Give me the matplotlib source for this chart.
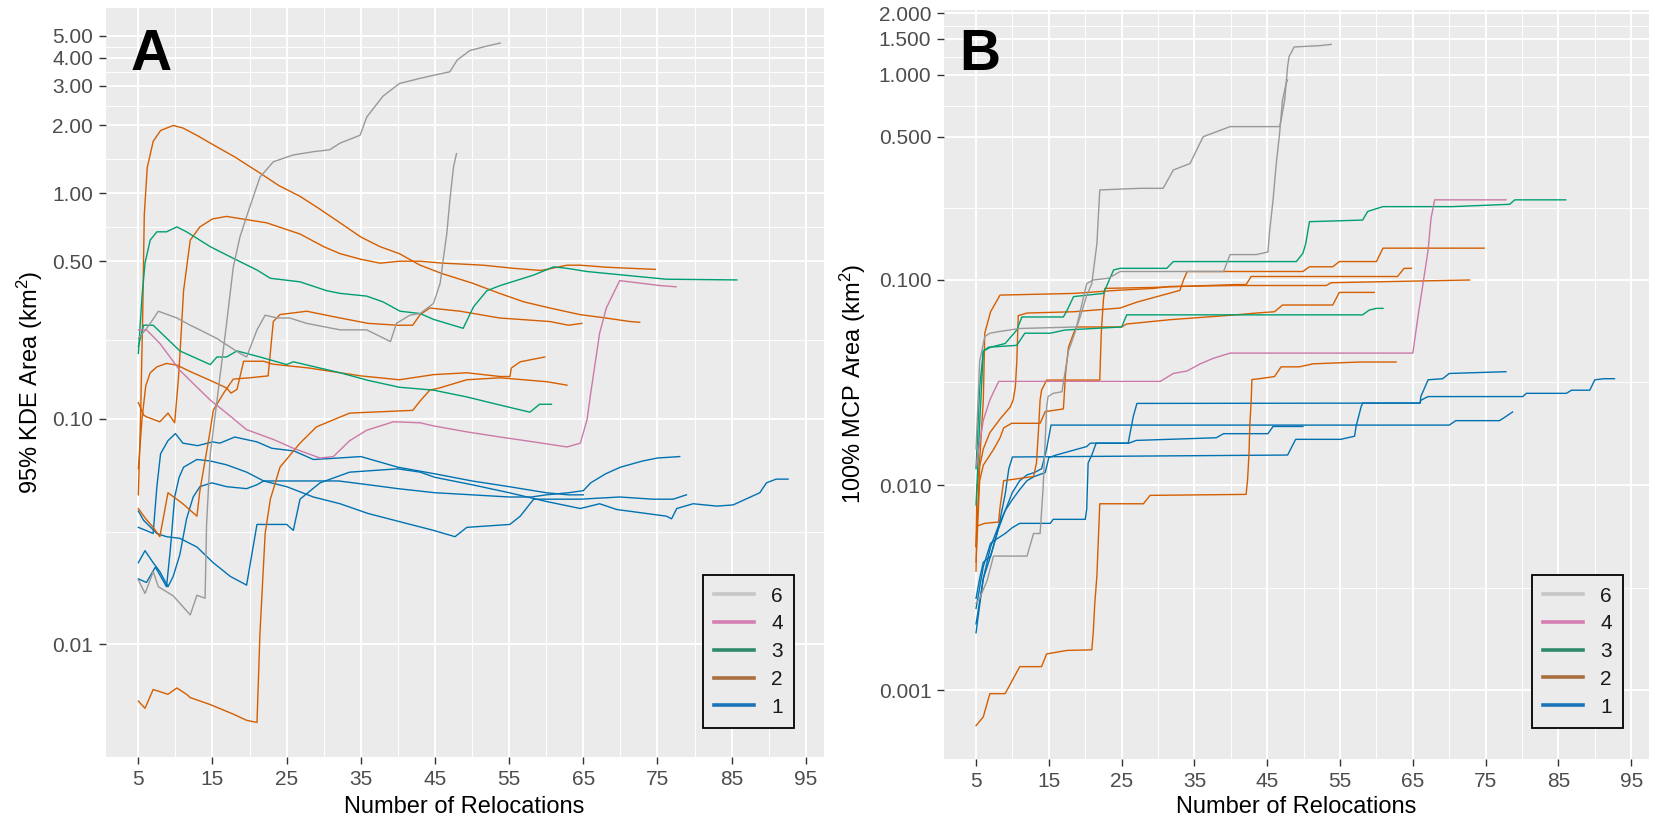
import matplotlib
matplotlib.use('Agg')
import numpy as np
import matplotlib.pyplot as plt
from matplotlib.lines import Line2D
from matplotlib.ticker import FixedLocator, NullFormatter

plt.rcParams['font.family'] = ['Liberation Sans', 'DejaVu Sans']
plt.rcParams['mathtext.fontset'] = 'custom'
plt.rcParams['mathtext.rm'] = 'Liberation Sans'
plt.rcParams['mathtext.it'] = 'Liberation Sans:italic'

# ---- data: each line is one animal, (relocations, area km2) ----
# Panel A: 95% KDE area
kde_g1 = [
    [(5, 0.033), (6, 0.032), (7, 0.031), (7.5, 0.05), (8, 0.07), (9, 0.08), (10, 0.086), (11, 0.078),
     (13, 0.076), (15, 0.079), (16, 0.078), (18, 0.083), (21, 0.079), (23, 0.074), (26, 0.072),
     (28.6, 0.066), (32, 0.067), (35, 0.068), (40, 0.061), (45, 0.057), (50, 0.053), (55, 0.050),
     (60, 0.047), (63, 0.046), (65, 0.046)],
    [(5, 0.0195), (6.1, 0.0188), (7.3, 0.022), (8.8, 0.018), (9.3, 0.026), (9.9, 0.045), (10.5, 0.055),
     (11.1, 0.061), (12.9, 0.066), (14.7, 0.065), (16.9, 0.0625), (19.6, 0.058), (21.9, 0.053), (25, 0.05),
     (28.6, 0.045), (32.2, 0.042), (36, 0.038), (40.2, 0.035), (44.8, 0.032), (47.7, 0.030), (49.3, 0.033),
     (55.1, 0.034), (56.5, 0.037), (58.3, 0.044), (61, 0.044), (64.6, 0.044), (69.9, 0.045), (74.4, 0.044),
     (77.1, 0.044), (78.9, 0.046)],
    [(5, 0.023), (5.9, 0.026), (7, 0.023), (7.9, 0.021), (9, 0.018), (9.7, 0.020), (10.6, 0.025),
     (11.5, 0.036), (12.4, 0.045), (13.3, 0.050), (14.9, 0.052), (16.9, 0.050), (19.6, 0.049), (21, 0.051),
     (21.9, 0.053), (32, 0.053), (36, 0.051), (40, 0.049), (45, 0.047), (50, 0.046), (55, 0.045), (58, 0.045),
     (60, 0.046), (63, 0.047), (65, 0.048), (66, 0.052), (68, 0.057), (70, 0.061), (73, 0.065), (75, 0.067),
     (78, 0.068)],
    [(5, 0.039), (5.7, 0.0355), (7.5, 0.031), (8.8, 0.030), (10.6, 0.0295), (12.9, 0.027), (15.1, 0.023),
     (17.4, 0.020), (19.6, 0.0183), (20.3, 0.025), (21, 0.034), (22.3, 0.034), (25, 0.034), (25.9, 0.032),
     (26.8, 0.044), (29.5, 0.052), (33.5, 0.058), (40, 0.06), (43, 0.058), (45, 0.055), (50, 0.051),
     (55, 0.047), (60, 0.043), (64.6, 0.040), (67.2, 0.042), (69.5, 0.0396), (76.2, 0.037), (76.9, 0.036),
     (77.6, 0.040), (79.8, 0.042), (83, 0.041), (85.2, 0.0415), (88.8, 0.047), (89.7, 0.052), (91, 0.054),
     (92.6, 0.054)],
]
kde_g2 = [
    [(5, 0.046), (5.3, 0.1), (5.6, 0.3), (5.8, 0.8), (6.2, 1.3), (7, 1.7), (8, 1.9), (9.7, 2.0), (11, 1.95),
     (13, 1.8), (14.7, 1.67), (18, 1.45), (21.4, 1.23), (24, 1.08), (26.8, 0.97), (29.5, 0.85), (32.2, 0.74),
     (35, 0.64), (37.6, 0.58), (40.2, 0.54), (43, 0.48), (46, 0.44), (50, 0.40), (53.7, 0.36), (57, 0.33),
     (60.5, 0.31), (64.5, 0.29), (68, 0.28), (71.3, 0.27), (72.6, 0.268)],
    [(5, 0.118), (5.7, 0.104), (6.1, 0.102), (7.9, 0.097), (9, 0.106), (9.9, 0.096), (10.4, 0.15),
     (10.6, 0.19), (11.1, 0.37), (12, 0.62), (13.3, 0.71), (15, 0.77), (16.9, 0.79), (19, 0.77),
     (22.3, 0.74), (26.8, 0.66), (30, 0.58), (32.2, 0.54), (35, 0.51), (37.6, 0.49), (40.2, 0.50),
     (43, 0.50), (46.1, 0.49), (48.4, 0.486), (51.5, 0.48), (55.6, 0.465), (59.2, 0.455), (60.1, 0.46),
     (62.8, 0.48), (64.6, 0.48), (68.2, 0.47), (74.7, 0.46)],
    [(5, 0.040), (6, 0.036), (7, 0.033), (7.9, 0.030), (9, 0.047), (11, 0.042), (12.9, 0.037), (13.3, 0.048),
     (14.7, 0.089), (15.1, 0.109), (16.5, 0.13), (17.8, 0.15), (20, 0.152), (22.5, 0.155), (23.2, 0.27),
     (24.1, 0.29), (27.7, 0.30), (32.2, 0.28), (36, 0.265), (40, 0.26), (42, 0.26), (43, 0.29), (44.3, 0.31),
     (48.4, 0.30), (53.7, 0.28), (60.5, 0.27), (63, 0.26), (64.8, 0.265)],
    [(5, 0.06), (5.5, 0.10), (6, 0.14), (6.6, 0.16), (7.5, 0.17), (8.8, 0.176), (10.2, 0.173), (12, 0.162),
     (14.7, 0.148), (16.9, 0.137), (17.5, 0.130), (18.3, 0.135), (19.2, 0.18), (21.9, 0.18), (23, 0.175),
     (25, 0.172), (28, 0.168), (32.2, 0.16), (35, 0.155), (40.2, 0.149), (44.8, 0.157), (49.3, 0.16),
     (53.8, 0.154), (55.1, 0.154), (55.3, 0.168), (56.5, 0.179), (59.8, 0.188)],
    [(5, 0.0056), (5.9, 0.0052), (7, 0.0063), (9, 0.006), (10.2, 0.0064), (11.5, 0.006), (12, 0.0058),
     (14.7, 0.0054), (17.8, 0.0049), (19.6, 0.0046), (21, 0.0045), (21.4, 0.0112), (22.1, 0.031),
     (22.8, 0.044), (24.1, 0.061), (26.8, 0.078), (29, 0.092), (31.3, 0.099), (33.5, 0.106), (42, 0.109),
     (43, 0.12), (44.3, 0.134), (45.6, 0.137), (49.3, 0.149), (53.8, 0.152), (60.1, 0.146), (62.8, 0.141)],
]
kde_g3 = [
    [(5, 0.195), (5.5, 0.35), (5.9, 0.49), (6.6, 0.62), (7.5, 0.675), (8.8, 0.675), (10.2, 0.71),
     (11.5, 0.675), (14.7, 0.58), (17.8, 0.515), (21, 0.457), (22.8, 0.42), (26.8, 0.405), (30.4, 0.37),
     (32.2, 0.36), (35.8, 0.35), (38, 0.33), (40.3, 0.30), (43, 0.293), (44.8, 0.276), (48.8, 0.252),
     (50.2, 0.314), (52, 0.37), (53.8, 0.39), (58.3, 0.434), (61, 0.472), (62.8, 0.465), (65.5, 0.45),
     (72.6, 0.427), (76.2, 0.416), (85.7, 0.413)],
    [(5, 0.209), (5.7, 0.26), (7, 0.26), (10.6, 0.20), (14.7, 0.174), (15.6, 0.188), (16.9, 0.188),
     (18.3, 0.20), (21.4, 0.188), (25, 0.174), (25.9, 0.179), (32.2, 0.16), (36, 0.148), (40.2, 0.138),
     (44.8, 0.134), (49.3, 0.125), (53.8, 0.115), (57.8, 0.107), (59.1, 0.116), (60.7, 0.116)],
]
kde_g4 = [
    [(5, 0.248), (6.1, 0.248), (7.9, 0.216), (10.6, 0.164), (14.7, 0.121), (16.9, 0.106), (19.6, 0.0895),
     (23.2, 0.081), (25.9, 0.074), (29.5, 0.067), (31.3, 0.068), (33.5, 0.08), (35.8, 0.089), (39.4, 0.097),
     (43, 0.096), (44.8, 0.093), (49.3, 0.0875), (53.8, 0.083), (58.3, 0.079), (62.8, 0.075), (64.6, 0.078),
     (65.5, 0.099), (66, 0.13), (67.2, 0.24), (68.1, 0.31), (69.9, 0.41), (72.6, 0.40), (75.3, 0.39),
     (77.5, 0.385)],
]
kde_g6 = [
    [(5, 0.0193), (5.9, 0.0168), (6.6, 0.0193), (7, 0.021), (7.7, 0.018), (9.7, 0.0164), (12, 0.0135),
     (12.9, 0.0165), (14, 0.016), (14.2, 0.034), (14.7, 0.07), (15.6, 0.12), (16.9, 0.265), (17.8, 0.47),
     (18.7, 0.64), (19.6, 0.79), (21.4, 1.18), (23.2, 1.38), (25.9, 1.48), (28.6, 1.53), (30.8, 1.56),
     (32.2, 1.67), (34.9, 1.81), (35.8, 2.18), (38, 2.7), (40.2, 3.07), (42.9, 3.23), (45, 3.35), (47, 3.46),
     (48, 3.9), (49.7, 4.3), (52, 4.5), (53.8, 4.64)],
    [(5, 0.227), (6.3, 0.256), (7.7, 0.30), (10.2, 0.28), (12, 0.26), (13.3, 0.248), (15.6, 0.227),
     (18.7, 0.195), (19.6, 0.188), (21, 0.248), (22.1, 0.288), (23.7, 0.28), (25.4, 0.28), (27.7, 0.265),
     (32.2, 0.248), (35.8, 0.248), (39, 0.22), (39.8, 0.265), (41.6, 0.288), (43, 0.293), (44.8, 0.325),
     (45.7, 0.40), (46.1, 0.506), (46.6, 0.665), (47, 0.93), (47.5, 1.31), (47.9, 1.50)],
]

# Panel B: 100% MCP area
mcp_g1 = [
    [(5, 0.0019), (5.5, 0.0026), (6, 0.0035), (7, 0.0045), (8, 0.006), (9, 0.0075), (10, 0.0085),
     (11, 0.0095), (12, 0.0105), (13, 0.011), (14.5, 0.0115), (15, 0.0136), (16, 0.014), (20.2, 0.0154),
     (20.7, 0.016), (25.9, 0.016), (26.6, 0.0216), (27.1, 0.025), (66, 0.0251), (66.1, 0.027),
     (67.1, 0.0326), (69.1, 0.033), (70, 0.035), (77.8, 0.0357)],
    [(5, 0.0028), (5.5, 0.0035), (6, 0.0042), (7, 0.0045), (8, 0.006), (9, 0.009), (9.5, 0.012),
     (10, 0.0137), (47.8, 0.014), (48.9, 0.0167), (55.1, 0.0167), (57, 0.0173), (57.2, 0.0193),
     (57.9, 0.0241), (58.1, 0.0251), (66, 0.0251), (66.1, 0.0259), (67.1, 0.027), (80.1, 0.027),
     (80.6, 0.028), (86.1, 0.028), (86.8, 0.029), (89.3, 0.029), (90, 0.0326), (91.3, 0.033), (92.7, 0.033)],
    [(5, 0.0021), (6, 0.0035), (7, 0.005), (8, 0.0062), (9, 0.0075), (10, 0.0092), (11, 0.0105),
     (12, 0.0112), (13, 0.0115), (14, 0.012), (14.7, 0.015), (15.3, 0.0196), (70, 0.0196), (70.9, 0.0206),
     (76.9, 0.0206), (77.8, 0.0216), (78.7, 0.0227)],
    [(5, 0.0025), (6, 0.004), (7, 0.0052), (8, 0.0055), (9, 0.0058), (10, 0.0062), (11, 0.0065),
     (15.2, 0.0065), (15.6, 0.0068), (20, 0.0068), (20.2, 0.0076), (20.4, 0.0128), (20.9, 0.014),
     (21.5, 0.016), (26, 0.016), (27, 0.0165), (38, 0.017), (39, 0.0178), (45.1, 0.0178), (45.8, 0.0193),
     (49.9, 0.0193)],
]
mcp_g2 = [
    [(5, 0.005), (5.1, 0.0092), (5.5, 0.0132), (6, 0.026), (6.2, 0.055), (7, 0.07), (8.3, 0.0844),
     (18.4, 0.086), (24.3, 0.089), (29.4, 0.091), (31.6, 0.093), (40.7, 0.094), (53.1, 0.094),
     (53.8, 0.097), (72.8, 0.1)],
    [(5, 0.005), (5.5, 0.0123), (6, 0.015), (6.9, 0.018), (8.3, 0.021), (9.7, 0.024), (10.1, 0.026),
     (10.4, 0.03), (10.6, 0.04), (10.8, 0.067), (12, 0.069), (18.4, 0.070), (24.8, 0.073), (27.1, 0.078),
     (33, 0.089), (33.5, 0.10), (34, 0.11), (49.9, 0.11), (50.8, 0.116), (54, 0.116), (54.9, 0.123),
     (60, 0.123), (60.9, 0.143), (74.8, 0.143)],
    [(5, 0.0038), (5.1, 0.0063), (6.2, 0.0065), (8.1, 0.0066), (8.3, 0.0078), (8.8, 0.0105), (12.9, 0.011),
     (13.3, 0.0128), (13.6, 0.019), (13.8, 0.026), (14, 0.029), (14.7, 0.0325), (22, 0.0325), (22.2, 0.055),
     (22.5, 0.08), (22.7, 0.091), (29.4, 0.092), (40.7, 0.095), (42.1, 0.095), (42.8, 0.104), (62.9, 0.104),
     (63.8, 0.114), (64.8, 0.114)],
    [(5, 0.0042), (5.5, 0.0105), (6, 0.0125), (7.4, 0.0149), (8.3, 0.017), (8.8, 0.019), (9.9, 0.020),
     (13.8, 0.020), (14.5, 0.0228), (17, 0.0235), (17.3, 0.035), (17.7, 0.047), (18.4, 0.055), (18.8, 0.059),
     (25, 0.059), (25.7, 0.061), (31.6, 0.064), (40.7, 0.0676), (43.5, 0.069), (46, 0.07), (47.1, 0.0755),
     (54, 0.0755), (54.9, 0.087), (59.7, 0.087)],
    [(5, 0.00067), (6, 0.00074), (6.9, 0.00096), (9, 0.00096), (11, 0.0013), (14, 0.0013), (14.7, 0.0015),
     (17.5, 0.00156), (20.9, 0.00157), (21.1, 0.0019), (21.3, 0.0026), (21.6, 0.0036), (22, 0.0081),
     (28, 0.0081), (28.9, 0.0089), (42.1, 0.009), (42.3, 0.0106), (42.5, 0.0143), (42.6, 0.0193),
     (42.8, 0.026), (42.9, 0.0327), (43.9, 0.033), (46, 0.0338), (46.9, 0.0377), (49.4, 0.0377),
     (51.3, 0.039), (57.7, 0.0398), (62.7, 0.0398)],
]
mcp_g3 = [
    [(5, 0.008), (5.5, 0.02), (6, 0.045), (7, 0.047), (9, 0.049), (10.6, 0.057), (11.3, 0.066), (17, 0.066),
     (17.5, 0.071), (18.4, 0.083), (22.5, 0.086), (23.9, 0.112), (24.8, 0.114), (31.2, 0.114),
     (32.1, 0.123), (49, 0.123), (49.9, 0.135), (50.3, 0.151), (50.8, 0.1925), (58.1, 0.196),
     (58.8, 0.216), (60.9, 0.228), (70.5, 0.228), (78.3, 0.234), (79, 0.246), (86, 0.246)],
    [(5, 0.012), (5.5, 0.03), (6, 0.045), (6.7, 0.047), (10.6, 0.048), (11.7, 0.055), (15.2, 0.055),
     (17.2, 0.057), (25, 0.059), (25.7, 0.0676), (40.7, 0.0676), (58.1, 0.0676), (59, 0.0713),
     (60, 0.0727), (60.9, 0.0727)],
]
mcp_g4 = [
    [(5, 0.0123), (6, 0.0207), (6.9, 0.026), (8.1, 0.032), (30.3, 0.032), (32.1, 0.035), (34, 0.036),
     (35.8, 0.039), (37.6, 0.0415), (39.9, 0.044), (65, 0.044), (65.7, 0.066), (66.4, 0.096), (67.1, 0.14),
     (67.5, 0.20), (68, 0.246), (77.8, 0.246)],
]
mcp_g6 = [
    [(5, 0.00265), (5.5, 0.0028), (6.5, 0.0034), (7.4, 0.0045), (12, 0.0045), (12.9, 0.0058), (13.8, 0.0058),
     (14.2, 0.0095), (14.7, 0.024), (14.9, 0.027), (15.6, 0.028), (16.8, 0.0285), (17.2, 0.035),
     (17.7, 0.045), (18.4, 0.053), (19.3, 0.066), (20.2, 0.084), (20.9, 0.096), (21.6, 0.15), (22, 0.275),
     (27.5, 0.28), (30.7, 0.28), (32.1, 0.344), (34.4, 0.37), (36.2, 0.50), (39.9, 0.56), (46.7, 0.56),
     (46.9, 0.60), (47.4, 0.755), (47.8, 1.10), (48, 1.23), (48.7, 1.37), (52.2, 1.39), (53.8, 1.41)],
    [(5, 0.015), (5.5, 0.04), (6.2, 0.053), (6.9, 0.055), (8.1, 0.056), (11, 0.058), (18.8, 0.059),
     (20.2, 0.096), (21.1, 0.1), (23.2, 0.102), (24.8, 0.11), (39, 0.11), (39.9, 0.133), (43.5, 0.133),
     (45.1, 0.137), (45.3, 0.169), (45.8, 0.246), (46.2, 0.357), (46.7, 0.52), (47.1, 0.755), (47.6, 0.91),
     (47.8, 0.945)],
]

groups = ['1', '2', '3', '4', '6']
line_colors = {'1': '#0072B2', '2': '#D55E00', '3': '#009E73', '4': '#CC79A7', '6': '#999999'}
key_colors = {'1': '#1c75b8', '2': '#a9703f', '3': '#2f8a6c', '4': '#d57eb2', '6': '#c6c6c6'}

x_ticks = [5, 15, 25, 35, 45, 55, 65, 75, 85, 95]
kde_ticks = [0.01, 0.1, 0.5, 1, 2, 3, 4, 5]
mcp_ticks = [0.001, 0.01, 0.1, 0.5, 1, 1.5, 2]

W, H = 1656, 823


def style_axes(ax, yticks, fmt, ylim):
    ax.set_facecolor('#EBEBEB')
    for s in ax.spines.values():
        s.set_visible(False)
    ax.set_yscale('log')
    ax.set_xlim(0.6, 97.4)
    ax.set_ylim(*ylim)
    ax.set_xticks(x_ticks)
    ax.set_xticklabels([str(t) for t in x_ticks])
    ax.xaxis.set_minor_locator(FixedLocator(list(range(10, 100, 10))))
    ax.set_yticks(yticks)
    ax.set_yticklabels([fmt % t for t in yticks])
    logs = np.log10(yticks)
    ax.yaxis.set_minor_locator(FixedLocator(10 ** ((logs[:-1] + logs[1:]) / 2)))
    ax.yaxis.set_minor_formatter(NullFormatter())
    ax.grid(which='major', color='white', linewidth=1.4)
    ax.grid(which='minor', color='white', linewidth=0.7)
    ax.set_axisbelow(True)
    ax.tick_params(which='major', length=4.8, width=1.0, color='#333333',
                   labelsize=15, labelcolor='#4D4D4D', pad=4.3)
    ax.tick_params(which='minor', length=0)


def draw_lines(ax, panel):
    for g in groups:
        for line in panel[g]:
            xs = [p[0] for p in line]
            ys = [p[1] for p in line]
            ax.plot(xs, ys, color=line_colors[g], linewidth=1.0, solid_joinstyle='round')


def add_legend(ax, right, bottom):
    handles = [Line2D([], [], color=key_colors[g], linewidth=2.6) for g in groups[::-1]]
    leg = ax.legend(handles, groups[::-1], loc='lower right', bbox_to_anchor=(right, bottom),
                    bbox_transform=ax.transAxes, frameon=True, fancybox=False, edgecolor='black',
                    facecolor='#EBEBEB', framealpha=1, fontsize=15, handlelength=1.92,
                    handletextpad=0.82, labelspacing=0.42, borderpad=0.55, borderaxespad=0)
    leg.get_frame().set_linewidth(1.3)
    for t in leg.get_texts():
        t.set_color('#1a1a1a')


fig = plt.figure(figsize=(W / 100, H / 100), dpi=100)

# panel A
axA = fig.add_axes([105.7 / W, 1 - 757 / H, (823.6 - 105.7) / W, (757 - 8) / H])
style_axes(axA, kde_ticks, '%.2f', (10 ** -2.5, 10 ** 0.822))
draw_lines(axA, {'1': kde_g1, '2': kde_g2, '3': kde_g3, '4': kde_g4, '6': kde_g6})
add_legend(axA, 0.959, 0.0387)
axA.text(0.034, 0.917, 'A', transform=axA.transAxes, fontsize=41, fontweight='bold',
         ha='left', va='baseline', color='black')

# panel B
axB = fig.add_axes([944 / W, 1 - 759.3 / H, (1648.7 - 944) / W, (759.3 - 10) / H])
style_axes(axB, mcp_ticks, '%.3f', (10 ** -3.338, 10 ** 0.317))
draw_lines(axB, {'1': mcp_g1, '2': mcp_g2, '3': mcp_g3, '4': mcp_g4, '6': mcp_g6})
add_legend(axB, 0.964, 0.0418)
axB.text(0.021, 0.92, 'B', transform=axB.transAxes, fontsize=41, fontweight='bold',
         ha='left', va='baseline', color='black')

# axis titles
fig.text(30 / W, 1 - 382 / H, r'95% KDE Area (km$^2$)', rotation=90, ha='center', va='center', fontsize=17)
fig.text(853 / W, 1 - 384 / H, r'100% MCP Area (km$^2$)', rotation=90, ha='center', va='center', fontsize=17)
fig.text(464.6 / W, 1 - 807 / H, 'Number of Relocations', ha='center', va='center', fontsize=17)
fig.text(1296.4 / W, 1 - 807 / H, 'Number of Relocations', ha='center', va='center', fontsize=17)

fig.savefig('out.png', dpi=100, facecolor='white')
